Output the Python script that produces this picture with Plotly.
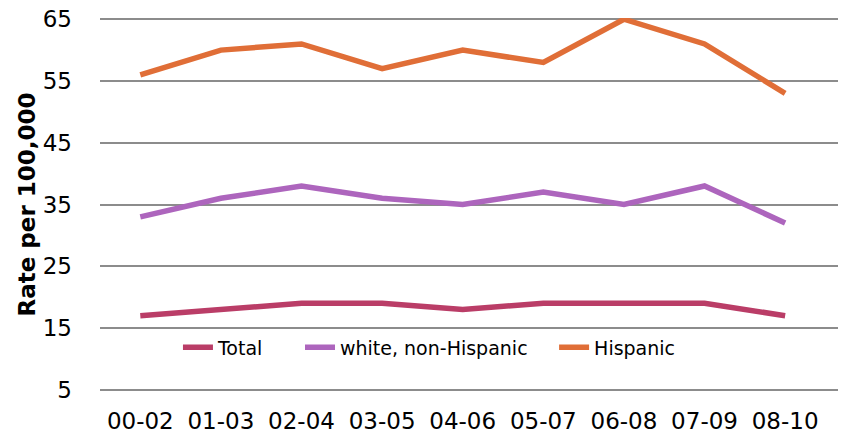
import plotly.graph_objects as go

categories = ["00-02", "01-03", "02-04", "03-05", "04-06", "05-07", "06-08", "07-09", "08-10"]
total = [17, 18, 19, 19, 18, 19, 19, 19, 17]
white_non_hispanic = [33, 36, 38, 36, 35, 37, 35, 38, 32]
hispanic = [56, 60, 61, 57, 60, 58, 65, 61, 53]
y_ticks = [5, 15, 25, 35, 45, 55, 65]

series = [
    ("Total", total, "#BA3D67", "legend", 0.1045),
    ("white, non-Hispanic", white_non_hispanic, "#AD65BD", "legend2", 0.2681),
    ("Hispanic", hispanic, "#E06E37", "legend3", 0.6087),
]

fig = go.Figure()
for name, vals, color, leg, _ in series:
    fig.add_trace(go.Scatter(
        x=list(range(len(categories))), y=vals, name=name, mode="lines",
        line=dict(color=color, width=5.5), legend=leg,
    ))

legend_common = dict(
    orientation="h", y=0.117, xanchor="left", yanchor="middle",
    font=dict(size=19), bgcolor="rgba(0,0,0,0)", itemwidth=30,
)
legends = {}
for _, _, _, leg, lx in series:
    legends[leg] = dict(legend_common, x=lx)

fig.update_layout(
    width=838, height=427,
    margin=dict(l=92, r=0, t=10, b=44, autoexpand=False),
    paper_bgcolor="white", plot_bgcolor="white",
    font=dict(family="DejaVu Sans", color="#000000", size=23),
    showlegend=True,
    **legends,
    xaxis=dict(
        tickmode="array", tickvals=list(range(len(categories))), ticktext=categories,
        range=[-0.5, 8.755], showgrid=False, zeroline=False, showline=False,
        ticks="", tickfont=dict(size=23), ticklabelstandoff=14, automargin=False,
        ticklabeloverflow="allow",
    ),
    yaxis=dict(
        range=[4.8, 65.2], tickvals=y_ticks, showgrid=True, gridcolor="#8C8C8C", gridwidth=2,
        zeroline=False, showline=False, ticks="", tickfont=dict(size=23),
        ticklabelstandoff=27, automargin=False, ticklabeloverflow="allow",
        title=dict(text="<b>Rate per 100,000</b>", font=dict(size=23), standoff=0),
    ),
)

fig.write_html("out.html")
